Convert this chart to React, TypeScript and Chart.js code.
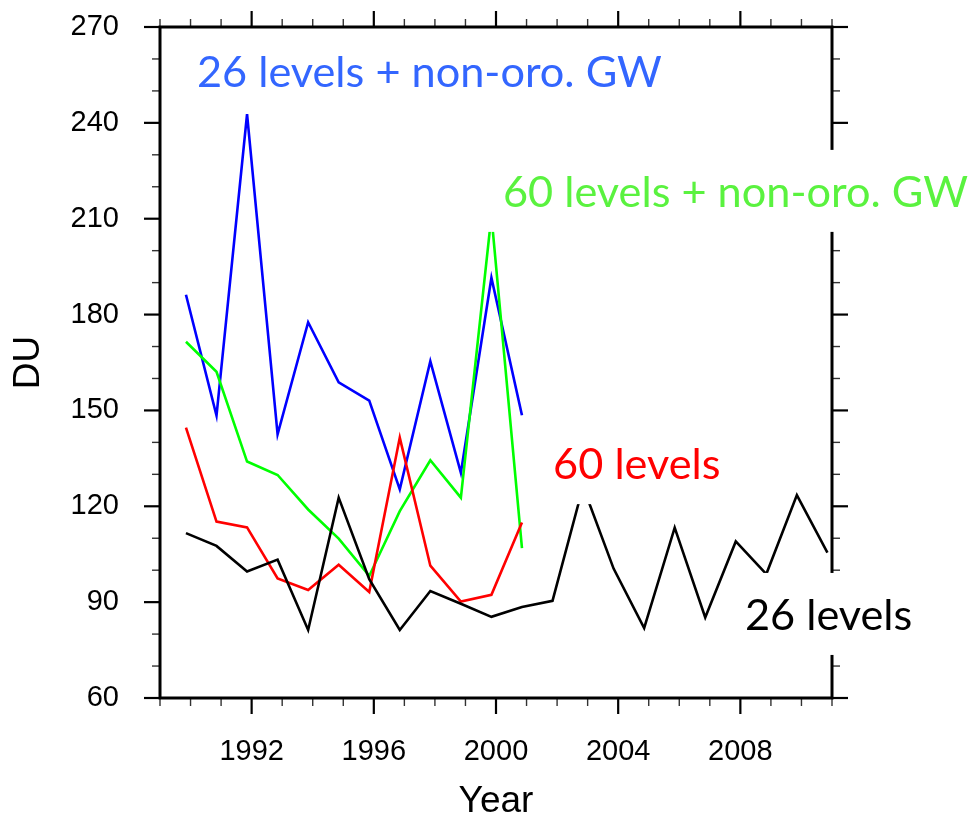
import React, { useEffect, useRef } from "react";
import { Chart, registerables } from "chart.js";

Chart.register(...registerables);

// ---- data ----
const xPositions = [
  1989.85, 1990.85, 1991.85, 1992.85, 1993.85, 1994.85, 1995.85, 1996.85, 1997.85, 1998.85, 1999.85,
  2000.85, 2001.85, 2002.85, 2003.85, 2004.85, 2005.85, 2006.85, 2007.85, 2008.85, 2009.85, 2010.85,
];
const levels26NonOro = [186.2, 148.4, 242.7, 142.5, 177.6, 158.8, 153.1, 125.3, 165.4, 130.5, 191.5, 148.5];
const levels60NonOro = [171.5, 162.1, 134.0, 129.8, 119.0, 109.9, 98.2, 118.5, 134.4, 122.7, 211.0, 106.9];
const levels60 = [144.6, 115.2, 113.4, 97.4, 93.8, 101.7, 93.2, 141.5, 101.4, 90.2, 92.3, 114.9];
const levels26 = [
  111.6, 107.6, 99.6, 103.3, 81.3, 122.7, 97.2, 81.3, 93.5, 89.5, 85.4,
  88.5, 90.4, 126.2, 100.5, 81.9, 113.3, 85.2, 109.0, 98.8, 123.5, 105.5,
];
const yTickValues = [60, 90, 120, 150, 180, 210, 240, 270];
const xMajorTicks = [1992, 1996, 2000, 2004, 2008];

const labelTexts = ["26 levels + non-oro. GW", "60 levels + non-oro. GW", "60 levels", "26 levels"];
const labelColors = ["#3366ff", "#5af23f", "#ff0000", "#000000"];
// annotation anchor (left edge, baseline) in data coordinates
const labelAnchorX = [1990.21, 2000.23, 2001.87, 2008.15];
const labelAnchorY = [251.2, 213.7, 128.5, 81.3];

const X_MIN = 1989;
const X_MAX = 2011;
const Y_MIN = 60;
const Y_MAX = 270;
const AXIS_FONT = "'Liberation Sans', Arial, Helvetica, sans-serif";
const LABEL_FONT = "Lato, 'Open Sans', sans-serif";

const toPoints = (vals: number[]) => vals.map((v, i) => ({ x: xPositions[i], y: v }));

const framePlugin = {
  id: "nclFrame",
  afterDatasetsDraw(chart: any) {
    const { ctx, chartArea: a } = chart;
    const xs = chart.scales.x;
    const ys = chart.scales.y;
    ctx.save();
    const seg = (x1: number, y1: number, x2: number, y2: number) => {
      ctx.beginPath();
      ctx.moveTo(x1, y1);
      ctx.lineTo(x2, y2);
      ctx.stroke();
    };
    // x ticks (bottom & top)
    for (let yr = X_MIN; yr <= X_MAX; yr++) {
      const px = xs.getPixelForValue(yr);
      const major = xMajorTicks.includes(yr);
      const len = major ? 16 : 8;
      ctx.lineWidth = major ? 2.2 : 1.4;
      ctx.strokeStyle = major ? "#000" : "#333";
      seg(px, a.bottom, px, a.bottom + len);
      seg(px, a.top, px, a.top - len);
    }
    // y ticks (left & right)
    for (let v = Y_MIN; v <= Y_MAX; v += 10) {
      const py = ys.getPixelForValue(v);
      const major = yTickValues.includes(v);
      const len = major ? 16 : 8;
      ctx.lineWidth = major ? 2.2 : 1.4;
      ctx.strokeStyle = major ? "#000" : "#333";
      seg(a.left, py, a.left - len, py);
      seg(a.right, py, a.right + len, py);
    }
    // frame
    ctx.strokeStyle = "#000";
    ctx.lineWidth = 3;
    ctx.strokeRect(a.left, a.top, a.right - a.left, a.bottom - a.top);

    // annotations with white boxes
    ctx.font = `100px ${LABEL_FONT}`;
    const refW = ctx.measureText(labelTexts[1]).width;
    const size = (100 * 465) / refW;
    ctx.font = `${size}px ${LABEL_FONT}`;
    ctx.textBaseline = "alphabetic";
    ctx.textAlign = "left";
    for (let i = 0; i < labelTexts.length; i++) {
      const lx = xs.getPixelForValue(labelAnchorX[i]);
      const ly = ys.getPixelForValue(labelAnchorY[i]);
      const w = ctx.measureText(labelTexts[i]).width;
      ctx.fillStyle = "#ffffff";
      ctx.fillRect(lx - 15, ly - 57, w + 30, 82);
      ctx.fillStyle = labelColors[i];
      ctx.fillText(labelTexts[i], lx, ly);
    }
    ctx.restore();
  },
};

export default function App() {
  const canvasRef = useRef<HTMLCanvasElement | null>(null);

  useEffect(() => {
    if (!canvasRef.current) return;
    const mk = (data: number[], color: string) => ({
      data: toPoints(data),
      borderColor: color,
      backgroundColor: color,
      borderWidth: 2.6,
      pointRadius: 0,
      fill: false,
      tension: 0,
    });
    const chart = new Chart(canvasRef.current, {
      type: "line",
      data: {
        datasets: [
          mk(levels26, "#000000"),
          mk(levels60, "#ff0000"),
          mk(levels60NonOro, "#00ff00"),
          mk(levels26NonOro, "#0000ff"),
        ],
      },
      options: {
        animation: false,
        responsive: true,
        maintainAspectRatio: false,
        layout: { padding: { top: 27, right: 138, bottom: 0, left: 0 } },
        plugins: { legend: { display: false }, tooltip: { enabled: false } },
        scales: {
          x: {
            type: "linear",
            min: X_MIN,
            max: X_MAX,
            grid: { display: false, drawTicks: false },
            border: { display: false },
            ticks: {
              stepSize: 1,
              autoSkip: false,
              maxRotation: 0,
              padding: 37,
              color: "#000",
              font: { family: AXIS_FONT, size: 29 },
              callback: (v: any) => (xMajorTicks.includes(Number(v)) ? String(v) : ""),
            },
            title: {
              display: true,
              text: "Year",
              color: "#000",
              padding: 0,
              font: { family: AXIS_FONT, size: 37, lineHeight: 0.946 },
            },
            afterFit: (s: any) => {
              s.height = 121;
              s.paddingLeft = 0;
              s.paddingRight = 0;
            },
          },
          y: {
            type: "linear",
            min: Y_MIN,
            max: Y_MAX,
            grid: { display: false, drawTicks: false },
            border: { display: false },
            ticks: {
              stepSize: 30,
              padding: 41,
              color: "#000",
              font: { family: AXIS_FONT, size: 29 },
            },
            title: {
              display: true,
              text: "DU",
              color: "#000",
              padding: { top: 7, bottom: 0 },
              font: { family: AXIS_FONT, size: 37 },
            },
            afterFit: (s: any) => {
              s.width = 160;
              s.paddingTop = 0;
              s.paddingBottom = 0;
            },
          },
        },
      },
      plugins: [framePlugin],
    });
    return () => chart.destroy();
  }, []);

  return (
    <div style={{ position: "fixed", left: 0, top: 0, width: 970, height: 819, background: "#fff" }}>
      <canvas ref={canvasRef} />
    </div>
  );
}
